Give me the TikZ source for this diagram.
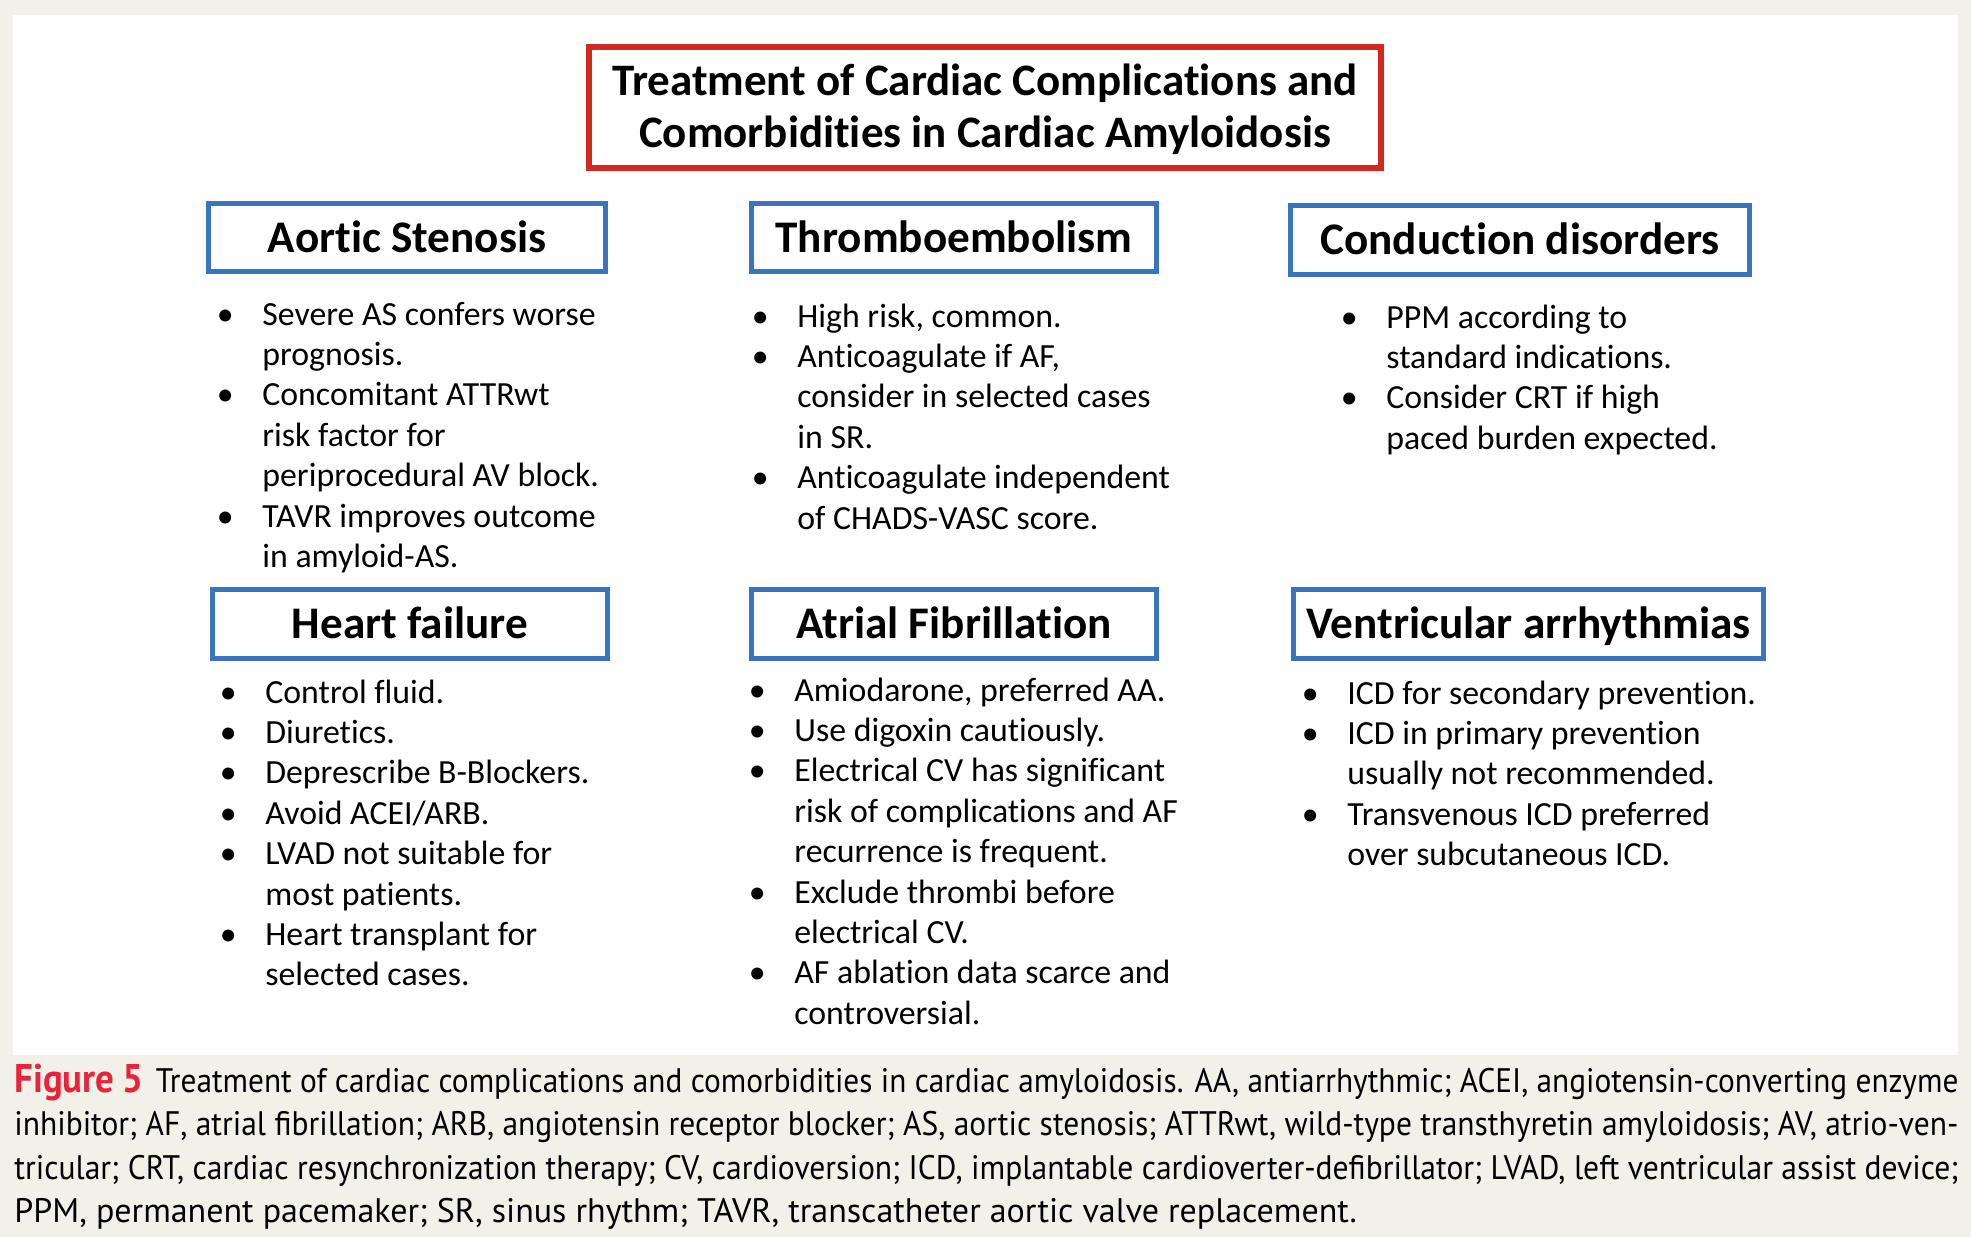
\documentclass[tikz,border=0pt]{standalone}
\usepackage{fontspec}
\usepackage{graphicx}
\setmainfont[Ligatures={NoCommon}]{Carlito}
\newfontfamily\capfont{PT Sans}
\definecolor{bgc}{RGB}{241,241,233}
\definecolor{boxblue}{RGB}{58,115,190}
\definecolor{boxred}{RGB}{210,40,30}
\definecolor{figred}{RGB}{232,36,58}
\newlength\capw
\newcommand\capline[1]{\settowidth{\capw}{#1}\ifdim\capw>972pt\relax\pgfmathsetmacro\capr{972pt/\capw}\scalebox{\capr}[1]{#1}\else\makebox[972pt][s]{#1}\fi}
\newcommand\bitem{\makebox[0pt]{\textbullet}\hspace*{18.5pt}}
\newcommand\bcont{\hspace*{18.5pt}}
\tikzset{
  hd/.style={draw=boxblue, line width=2.6pt, fill=white, inner sep=0pt,
    font=\fontsize{22.6}{26}\selectfont\bfseries, text height=14.5pt, text depth=0pt},
  ttl/.style={draw=boxred, line width=2.9pt, inner sep=0pt, minimum width=396.1pt, minimum height=60.6pt},
  ttltext/.style={font=\fontsize{22.5}{26}\selectfont\bfseries, inner sep=0pt, anchor=base},
  lst/.style={font=\fontsize{16.9}{20.2}\selectfont, inner sep=0pt, anchor=base west},
  captxt/.style={font=\capfont\fontsize{17}{21.75}\selectfont, inner sep=0pt, anchor=base west},
}
\begin{document}
\begin{tikzpicture}[x=0.5pt,y=-0.5pt]
\useasboundingbox (0,0) rectangle (1971,1237);
\fill[bgc] (0,0) rectangle (1971,1237);
\fill[white] (13,15) rectangle (1958,1055);

% title
\node[ttl] (title) at (985,107.5) {};
\node[ttltext] (t1) at (985,95) {Treatment of Cardiac Complications and};
\node[ttltext] (t2) at (985,147) {Comorbidities in Cardiac Amyloidosis};

% headings
\node[hd, minimum width=198.4pt, minimum height=33.9pt] (as) at (407,237.5) {Aortic Stenosis};
\node[hd, minimum width=202.4pt, minimum height=33.9pt] (te) at (954,237.5) {Thromboembolism};
\node[hd, minimum width=229.4pt, minimum height=34.4pt] (cd) at (1520,240) {Conduction disorders};
\node[hd, minimum width=197.4pt, minimum height=34.4pt] (hf) at (410,624) {Heart failure};
\node[hd, minimum width=202.4pt, minimum height=34.4pt] (af) at (954,624) {Atrial Fibrillation};
\node[hd, minimum width=234.9pt, minimum height=34.4pt] (va) at (1528.5,624) {Ventricular arrhythmias};

% lists
\node[lst] (asl) at (225,325) {\begin{tabular}[t]{@{}l@{}}
\bitem Severe AS confers worse\\
\bcont prognosis.\\
\bitem Concomitant ATTRwt\\
\bcont risk factor for\\
\bcont periprocedural AV block.\\
\bitem TAVR improves outcome\\
\bcont in amyloid-AS.
\end{tabular}};
\node[lst] (tel) at (760,327) {\begin{tabular}[t]{@{}l@{}}
\bitem High risk, common.\\
\bitem Anticoagulate if AF,\\
\bcont consider in selected cases\\
\bcont in SR.\\
\bitem Anticoagulate independent\\
\bcont of CHADS-VASC score.
\end{tabular}};
\node[lst] (cdl) at (1349,328) {\begin{tabular}[t]{@{}l@{}}
\bitem PPM according to\\
\bcont standard indications.\\
\bitem Consider CRT if high\\
\bcont paced burden expected.
\end{tabular}};
\node[lst] (hfl) at (228,703) {\begin{tabular}[t]{@{}l@{}}
\bitem Control fluid.\\
\bitem Diuretics.\\
\bitem Deprescribe B-Blockers.\\
\bitem Avoid ACEI/ARB.\\
\bitem LVAD not suitable for\\
\bcont most patients.\\
\bitem Heart transplant for\\
\bcont selected cases.
\end{tabular}};
\node[lst] (afl) at (757,701) {\begin{tabular}[t]{@{}l@{}}
\bitem Amiodarone, preferred AA.\\
\bitem Use digoxin cautiously.\\
\bitem Electrical CV has significant\\
\bcont risk of complications and AF\\
\bcont recurrence is frequent.\\
\bitem Exclude thrombi before\\
\bcont electrical CV.\\
\bitem AF ablation data scarce and\\
\bcont controversial.
\end{tabular}};
\node[lst] (val) at (1310,704) {\begin{tabular}[t]{@{}l@{}}
\bitem ICD for secondary prevention.\\
\bitem ICD in primary prevention\\
\bcont usually not recommended.\\
\bitem Transvenous ICD preferred\\
\bcont over subcutaneous ICD.
\end{tabular}};

% caption
\node[captxt] (c1) at (14,1092) {\capline{{\fontsize{20}{21.75}\selectfont\bfseries\color{figred}Figure\hspace{0.22em}5}\hspace{0.4em}Treatment of cardiac complications and comorbidities in cardiac amyloidosis. AA, antiarrhythmic; ACEI, angiotensin-converting enzyme}};
\node[captxt] (c2) at (14,1135.5) {\capline{inhibitor; AF, atrial fibrillation; ARB, angiotensin receptor blocker; AS, aortic stenosis; ATTRwt, wild-type transthyretin amyloidosis; AV, atrio-ven-}};
\node[captxt] (c3) at (14,1179) {\capline{tricular; CRT, cardiac resynchronization therapy; CV, cardioversion; ICD, implantable cardioverter-defibrillator; LVAD, left ventricular assist device;}};
\node[captxt] (c4) at (14,1222.5) {PPM, permanent pacemaker; SR, sinus rhythm; TAVR, transcatheter aortic valve replacement.};
\end{tikzpicture}
\end{document}
